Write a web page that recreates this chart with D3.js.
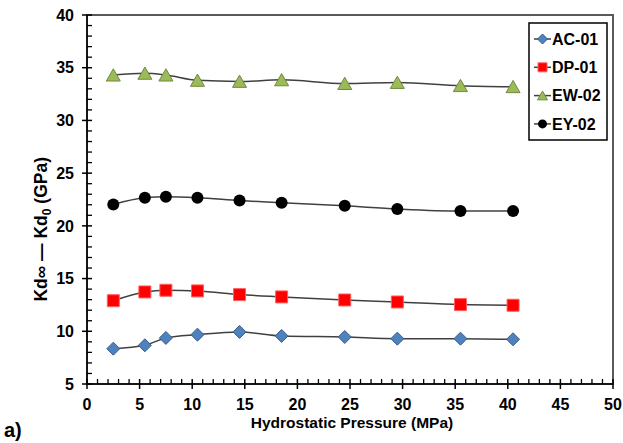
<!DOCTYPE html>
<html>
<head>
<meta charset="utf-8">
<script src="https://cdn.jsdelivr.net/npm/d3@7/dist/d3.min.js"></script>
<style>
  html, body { margin: 0; padding: 0; background: #fff; }
  svg { display: block; }
  text { font-family: "Liberation Sans", Arial, sans-serif; font-weight: bold; fill: #000; }
</style>
</head>
<body>
<svg id="chart" width="623" height="443"></svg>
<script>
// ---- data ----
const pressure = [2.5, 5.5, 7.5, 10.5, 14.5, 18.5, 24.5, 29.5, 35.5, 40.5];
const seriesNames = ["AC-01", "DP-01", "EW-02", "EY-02"];
const ac01 = [8.35, 8.67, 9.37, 9.68, 9.94, 9.56, 9.46, 9.30, 9.30, 9.24];
const dp01 = [12.90, 13.73, 13.89, 13.83, 13.48, 13.26, 12.97, 12.78, 12.53, 12.47];
const ew02 = [34.30, 34.47, 34.30, 33.80, 33.70, 33.85, 33.50, 33.60, 33.30, 33.20];
const ey02 = [22.03, 22.66, 22.75, 22.66, 22.40, 22.20, 21.90, 21.60, 21.40, 21.40];
const xTicks = [0, 5, 10, 15, 20, 25, 30, 35, 40, 45, 50];
const yTicks = [5, 10, 15, 20, 25, 30, 35, 40];

const svg = d3.select("#chart");
const L = 87, R = 613, T = 15, B = 384;
const x = d3.scaleLinear().domain([0, 50]).range([L, R]);
const y = d3.scaleLinear().domain([5, 40]).range([B, T]);

// plot area border
svg.append("rect").attr("x", L).attr("y", T).attr("width", R - L).attr("height", B - T)
  .attr("fill", "none").attr("stroke", "#595959").attr("stroke-width", 2);

// axes
const gx = svg.append("g").attr("transform", `translate(0,${B})`);
const gy = svg.append("g").attr("transform", `translate(${L},0)`);
gx.append("line").attr("x1", L).attr("x2", R).attr("stroke", "#000").attr("stroke-width", 1.5);
gy.append("line").attr("y1", T).attr("y2", B).attr("stroke", "#000").attr("stroke-width", 1.5);

const xMinor = d3.range(0, 51, 1).filter(v => v % 5 !== 0);
const yMinor = d3.range(5, 41, 1).filter(v => v % 5 !== 0);
gx.selectAll(".mn").data(xMinor).join("line")
  .attr("x1", d => x(d)).attr("x2", d => x(d)).attr("y1", 0).attr("y2", -5)
  .attr("stroke", "#000").attr("stroke-width", 1.3);
gx.selectAll(".mj").data(xTicks).join("line")
  .attr("x1", d => x(d)).attr("x2", d => x(d)).attr("y1", -5).attr("y2", 5)
  .attr("stroke", "#000").attr("stroke-width", 1.5);
gx.selectAll(".lb").data(xTicks).join("text")
  .attr("x", d => x(d)).attr("y", 26).attr("text-anchor", "middle")
  .attr("font-size", 16).text(d => d);

gy.selectAll(".mn").data(yMinor).join("line")
  .attr("y1", d => y(d)).attr("y2", d => y(d)).attr("x1", 0).attr("x2", 5)
  .attr("stroke", "#000").attr("stroke-width", 1.3);
gy.selectAll(".mj").data(yTicks).join("line")
  .attr("y1", d => y(d)).attr("y2", d => y(d)).attr("x1", -5).attr("x2", 5)
  .attr("stroke", "#000").attr("stroke-width", 1.5);
gy.selectAll(".lb").data(yTicks).join("text")
  .attr("x", -13).attr("y", d => y(d)).attr("dy", "0.36em").attr("text-anchor", "end")
  .attr("font-size", 16).text(d => d);

// axis titles
svg.append("text").attr("x", 352).attr("y", 428).attr("text-anchor", "middle")
  .attr("font-size", 15.5).text("Hydrostatic Pressure (MPa)");

const yl = svg.append("text").attr("transform", "translate(47,157) rotate(-90)")
  .attr("text-anchor", "end").attr("font-size", 17.5);
yl.append("tspan").text("Kd\u221E \u2014 Kd");
yl.append("tspan").attr("font-size", 12).attr("dy", 4).text("0");
yl.append("tspan").attr("dy", -4).text(" (GPa)");

svg.append("text").attr("x", 4).attr("y", 437).attr("font-size", 20).text("a)");

// marker shapes
function markerPath(type, s) {
  if (type === "diamond") return `M0,${-s}L${s},0L0,${s}L${-s},0Z`;
  if (type === "square") return `M${-s},${-s}H${s}V${s}H${-s}Z`;
  if (type === "triangle") return `M0,${-s*0.9}L${s},${s*0.85}L${-s},${s*0.85}Z`;
  return null;
}
const styles = [
  { type: "diamond", fill: "#4F81BD", stroke: "#385D8A", size: 6.5 },
  { type: "square", fill: "#FF0000", stroke: "#FF6060", size: 6 },
  { type: "triangle", fill: "#9BBB59", stroke: "#71893F", size: 7 },
  { type: "circle", fill: "#000000", stroke: "#000000", size: 6 }
];
const allSeries = [ac01, dp01, ew02, ey02];

const line = d3.line().x(d => x(d[0])).y(d => y(d[1])).curve(d3.curveMonotoneX);

allSeries.forEach((vals, i) => {
  const pts = pressure.map((p, j) => [p, vals[j]]);
  svg.append("path").attr("d", line(pts)).attr("fill", "none")
    .attr("stroke", "#404040").attr("stroke-width", 1.5);
  const st = styles[i];
  const g = svg.append("g");
  pts.forEach(pt => {
    if (st.type === "circle") {
      g.append("circle").attr("cx", x(pt[0])).attr("cy", y(pt[1])).attr("r", st.size)
        .attr("fill", st.fill);
    } else {
      g.append("path").attr("d", markerPath(st.type, st.size))
        .attr("transform", `translate(${x(pt[0])},${y(pt[1])})`)
        .attr("fill", st.fill).attr("stroke", st.stroke).attr("stroke-width", 1);
    }
  });
});

// legend
const lg = svg.append("g");
lg.append("rect").attr("x", 529).attr("y", 23).attr("width", 78).attr("height", 117)
  .attr("fill", "#fff").attr("stroke", "#000").attr("stroke-width", 1.5);
seriesNames.forEach((name, i) => {
  const cy = 39 + i * 28.3;
  const st = styles[i];
  lg.append("line").attr("x1", 534).attr("x2", 551).attr("y1", cy).attr("y2", cy)
    .attr("stroke", "#404040").attr("stroke-width", 1.5);
  if (st.type === "circle") {
    lg.append("circle").attr("cx", 542.5).attr("cy", cy).attr("r", 4.5).attr("fill", st.fill);
  } else {
    lg.append("path").attr("d", markerPath(st.type, st.type === "square" ? 4.5 : 5))
      .attr("transform", `translate(542.5,${cy})`)
      .attr("fill", st.fill).attr("stroke", st.stroke).attr("stroke-width", 1);
  }
  lg.append("text").attr("x", 552).attr("y", cy).attr("dy", "0.36em")
    .attr("font-size", 16).text(name);
});
</script>
</body>
</html>
